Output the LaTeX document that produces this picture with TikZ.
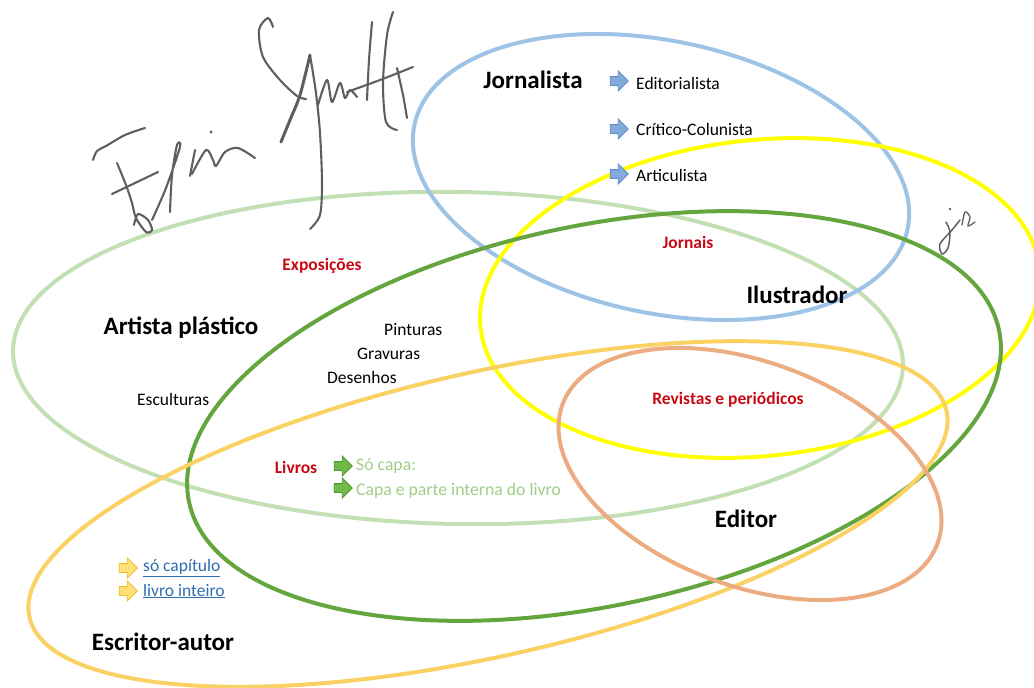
\documentclass[tikz,border=0pt]{standalone}
\usepackage{fontspec}
\setmainfont{Carlito}
\usetikzlibrary{shapes.arrows}
\definecolor{ringBlue}{RGB}{157,195,230}
\definecolor{ringYellow}{RGB}{255,255,0}
\definecolor{ringDark}{RGB}{100,165,62}
\definecolor{ringLight}{RGB}{195,224,180}
\definecolor{ringGold}{RGB}{250,210,100}
\definecolor{ringSalmon}{RGB}{236,172,130}
\definecolor{redT}{RGB}{200,10,20}
\definecolor{lgText}{RGB}{160,205,135}
\definecolor{linkT}{RGB}{46,110,175}
\definecolor{sig}{RGB}{95,95,95}
\definecolor{arBlueF}{RGB}{130,170,220}
\definecolor{arBlueD}{RGB}{95,140,200}
\definecolor{arGreenF}{RGB}{112,185,70}
\definecolor{arGreenD}{RGB}{80,150,50}
\definecolor{arGoldF}{RGB}{255,225,120}
\definecolor{arGoldD}{RGB}{240,190,40}
\tikzset{
  ring/.style={line width=4pt},
  bigl/.style={inner sep=0pt, font=\fontsize{25}{30}\selectfont\bfseries},
  smalll/.style={inner sep=0pt, anchor=west, font=\fontsize{17.5}{21}\selectfont},
  redl/.style={inner sep=0pt, text=redT, font=\fontsize{17.5}{21}\selectfont\bfseries},
  greenl/.style={inner sep=0pt, anchor=west, text=lgText, font=\fontsize{17.7}{21}\selectfont},
  linkl/.style={inner sep=0pt, anchor=west, text=linkT, font=\fontsize{17.5}{21}\selectfont},
  blockarrow/.style={single arrow, inner sep=4pt, minimum height=18pt,
     single arrow head extend=5.5pt, line width=0.8pt},
  sigline/.style={sig, line width=2.1pt, line cap=round, line join=round}
}
\begin{document}
\begin{tikzpicture}[x=1pt,y=-1pt]
\useasboundingbox (0,0) rectangle (1034,688);
% ellipses
\draw[ring, ringLight, rotate around={-1:(458,358)}] (458,358) ellipse [x radius=445, y radius=166];
\draw[ring, ringBlue, rotate around={-12:(661,177)}] (661,177) ellipse [x radius=252, y radius=136];
\draw[ring, ringYellow, rotate around={6:(760,298)}] (760,298) ellipse [x radius=281, y radius=158];
\draw[ring, ringDark, rotate around={12:(594,416)}] (594,416) ellipse [x radius=414, y radius=190];
\draw[ring, ringGold, rotate around={12.7:(488,514)}] (488,514) ellipse [x radius=470, y radius=142];
\draw[ring, ringSalmon, rotate around={-20.4:(750,474)}] (750,474) ellipse [x radius=200, y radius=112];

% signature "Elin"
\draw[sigline] plot[smooth] coordinates {(93,160) (97,151) (106,146) (125,135) (145,128)};
\draw[sigline] plot[smooth] coordinates {(117,163) (126,185) (132,203) (136,218) (146,232) (152,230) (148,220) (138,214) (134,225)};
\draw[sigline] plot[smooth] coordinates {(112,194) (135,183) (158,172)};
\draw[sigline] plot[smooth] coordinates {(152,220) (166,188) (180,147) (177,145) (172,175) (170,212)};
\draw[sigline] plot[smooth] coordinates {(195,150) (190,176)};
\fill[sig] (211,132) circle (1.6);
\draw[sigline] plot[smooth] coordinates {(192,174) (206,150) (213,160) (216,166) (225,152) (238,148) (255,158)};
% signature "Gruff"
\draw[sigline] plot[smooth] coordinates {(273,27) (268,18) (259,30) (263,57) (280,80) (297,96) (306,99)};
\draw[sig, line width=3pt, line cap=round] plot[smooth] coordinates {(310,55) (300,95) (290,120) (281,142)};
\draw[sigline] plot[smooth] coordinates {(310,55) (316,93) (320,133) (322,183) (320,215) (310,229)};
\draw[sigline] plot[smooth] coordinates {(318,105) (327,80) (332,102) (340,83) (345,98) (350,90) (357,97)};
\draw[sigline] plot[smooth] coordinates {(367,100) (369,60) (372,22)};
\draw[sigline] plot[smooth] coordinates {(393,12) (387,35) (383,83) (386,122) (397,130)};
\draw[sigline] plot[smooth] coordinates {(397,68) (403,95) (407,118)};
\draw[sigline] plot[smooth] coordinates {(347,92) (380,80) (413,67)};
% signature "ja"
\fill[sig] (950,209) circle (1.4);
\draw[sig, line width=1.5pt, line cap=round] plot[smooth] coordinates {(946,222) (950,232) (948,248) (942,254) (940,244) (952,230) (960,220)};
\draw[sig, line width=1.3pt, line cap=round] plot[smooth] coordinates {(962,225) (965,212) (970,217) (968,226) (975,222)};

% Jornalista
\node[bigl] (jorn) at (533,80) {Jornalista};
\node[blockarrow, fill=arBlueF, draw=arBlueD] (ab1) at (617,81) {};
\node[blockarrow, fill=arBlueF, draw=arBlueD] (ab2) at (617,129) {};
\node[blockarrow, fill=arBlueF, draw=arBlueD] (ab3) at (617,174) {};
\node[smalll] (edit) at (636,83) {Editorialista};
\node[smalll] (crit) at (636,129) {Crítico-Colunista};
\node[smalll] (arti) at (636,175) {Articulista};

\node[redl] (jornais) at (688,242) {Jornais};
\node[bigl] (ilus) at (797,295) {Ilustrador};
\node[redl] (expo) at (322,266) {Exposições};
\node[bigl] (artista) at (181,328) {Artista plástico};
\node[smalll] (pint) at (384,330) {Pinturas};
\node[smalll] (grav) at (357,354) {Gravuras};
\node[smalll] (dese) at (327,377) {Desenhos};
\node[smalll] (escu) at (137,399) {Esculturas};
\node[redl] (revi) at (728,400) {Revistas e periódicos};

\node[redl] (livros) at (296,467) {Livros};
\node[blockarrow, fill=arGreenF, draw=arGreenD] (ag1) at (341,466) {};
\node[blockarrow, fill=arGreenF, draw=arGreenD] (ag2) at (341,488) {};
\node[greenl] (socapa) at (356,466) {Só capa:};
\node[greenl] (capa) at (356,491) {Capa e parte interna do livro};

\node[bigl] (editor) at (746,519) {Editor};

\node[blockarrow, fill=arGoldF, draw=arGoldD] (ay1) at (126,568) {};
\node[blockarrow, fill=arGoldF, draw=arGoldD] (ay2) at (126,591) {};
\node[linkl] (socap) at (143,568) {\underline{só capítulo}};
\node[linkl] (livro) at (143,591) {\underline{livro inteiro}};

\node[bigl] (escritor) at (163,642) {Escritor-autor};
\end{tikzpicture}
\end{document}
